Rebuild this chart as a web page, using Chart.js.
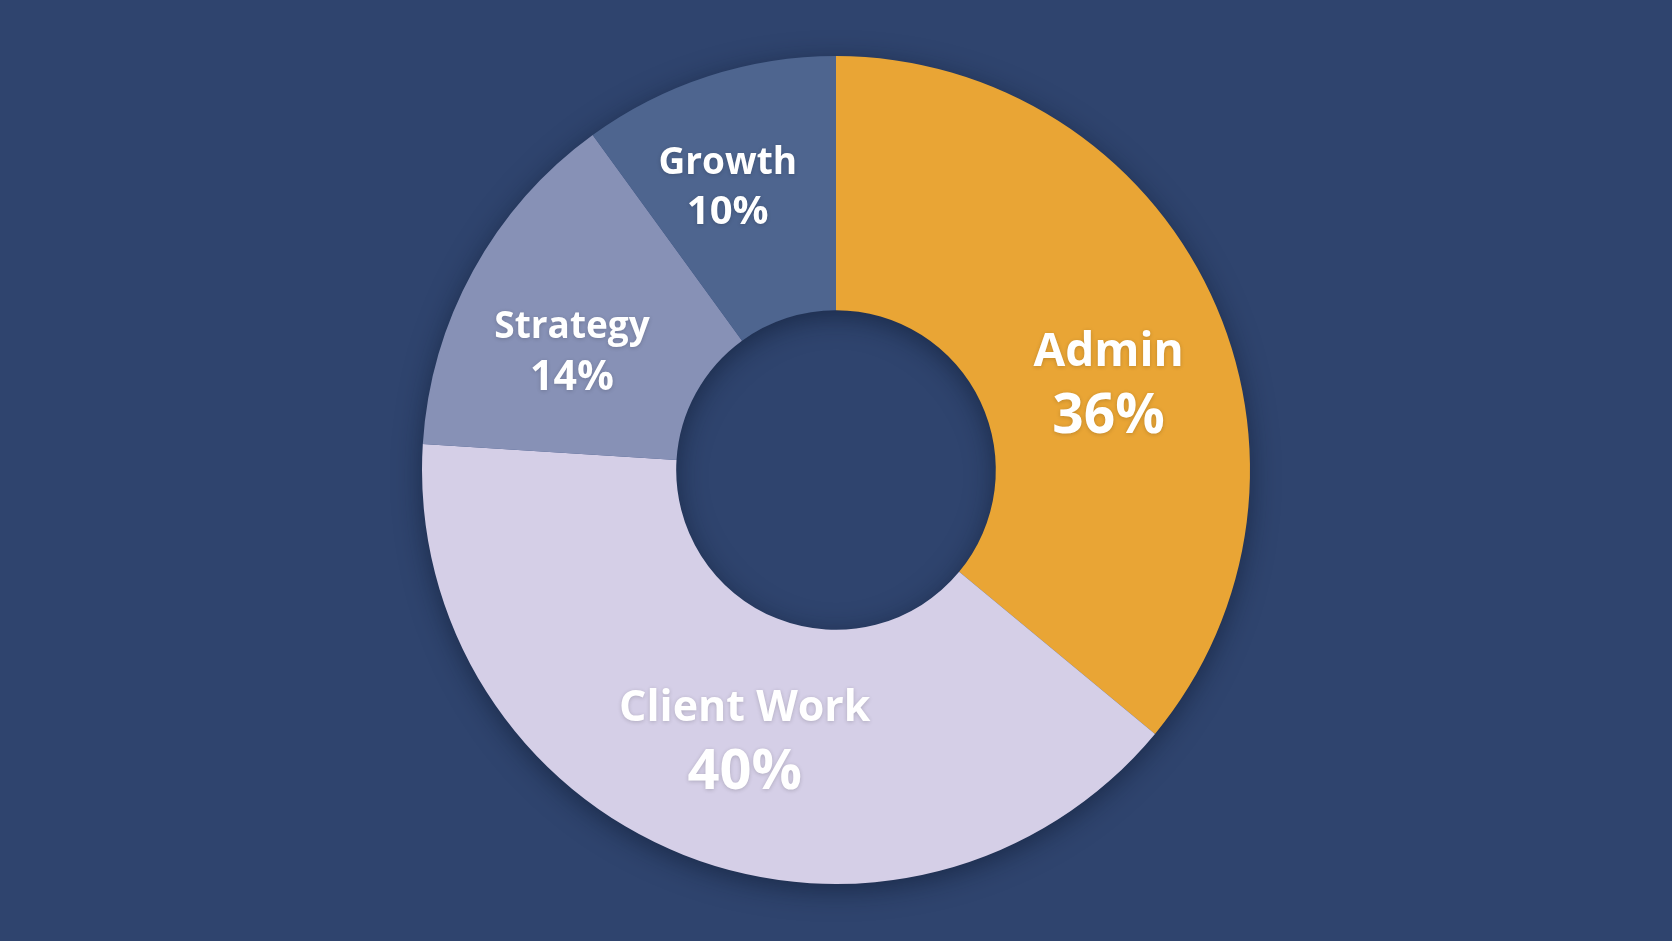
<!DOCTYPE html>
<html><head><meta charset="utf-8">
<script src="https://cdn.jsdelivr.net/npm/chart.js@4.4.1/dist/chart.umd.min.js"></script>
<style>
html,body{margin:0;padding:0;background:#2f446e;}
#wrap{width:1672px;height:941px;position:relative;}
</style></head>
<body><div id="wrap"><canvas id="c"></canvas></div>
<script>
const categories = ["Admin", "Client Work", "Strategy", "Growth"];
const shares = [36, 40, 14, 10];
const colors = ["#e9a535", "#d5cfe7", "#8791b6", "#4e658f"];

const ringShadow = {
  id: 'ringShadow',
  beforeDatasetsDraw(chart) {
    const arc = chart.getDatasetMeta(0).data[0];
    if (!arc) return;
    const {x, y, outerRadius, innerRadius} = arc;
    const ctx = chart.ctx;
    ctx.save();
    ctx.shadowColor = 'rgba(10,20,40,0.55)';
    ctx.shadowBlur = 28;
    ctx.shadowOffsetY = 6;
    ctx.fillStyle = '#3a5080';
    ctx.beginPath();
    ctx.arc(x, y, outerRadius - 1, 0, Math.PI * 2);
    ctx.arc(x, y, innerRadius + 1, 0, Math.PI * 2, true);
    ctx.fill();
    ctx.restore();
  }
};

const labelPlugin = {
  id: 'segLabels',
  afterDatasetsDraw(chart) {
    const ctx = chart.ctx;
    const meta = chart.getDatasetMeta(0);
    const tweaks = [
      {da: 7, dr: 0, dx: 0, dy: 5, f1: 46, f2: 55, gap: 64},
      {da: -2, dr: -6, dx: 3, dy: 6, f1: 43, f2: 56, gap: 64},
      {da: -4, dr: 5, dx: 1, dy: 5, f1: 37, f2: 41, gap: 51},
      {da: -3, dr: 18, dx: 1, dy: 3, f1: 37, f2: 40, gap: 49}
    ];
    meta.data.forEach((arc, i) => {
      const t = tweaks[i];
      const mid = (arc.startAngle + arc.endAngle) / 2 + t.da * Math.PI / 180;
      const r = (arc.innerRadius + arc.outerRadius) / 2 + t.dr;
      const cx = arc.x + Math.cos(mid) * r + t.dx;
      const cy = arc.y + Math.sin(mid) * r + t.dy;
      ctx.save();
      ctx.fillStyle = '#ffffff';
      ctx.textAlign = 'center';
      ctx.textBaseline = 'middle';
      ctx.shadowColor = 'rgba(0,0,0,0.18)';
      ctx.shadowBlur = 4;
      ctx.shadowOffsetY = 1;
      ctx.font = `bold ${t.f1}px "Open Sans", Lato, sans-serif`;
      ctx.fillText(categories[i], cx, cy - t.gap / 2);
      ctx.font = `bold ${t.f2}px "Open Sans", Lato, sans-serif`;
      ctx.fillText(shares[i] + '%', cx, cy + t.gap / 2);
      ctx.restore();
    });
  }
};

new Chart(document.getElementById('c'), {
  type: 'doughnut',
  data: {
    labels: categories,
    datasets: [{
      data: shares,
      backgroundColor: colors,
      borderWidth: 0
    }]
  },
  options: {
    responsive: true,
    maintainAspectRatio: false,
    animation: false,
    cutout: '38.6%',
    layout: {padding: {top: 56, bottom: 57}},
    plugins: {legend: {display: false}, tooltip: {enabled: false}}
  },
  plugins: [ringShadow, labelPlugin]
});
</script>
</body></html>
